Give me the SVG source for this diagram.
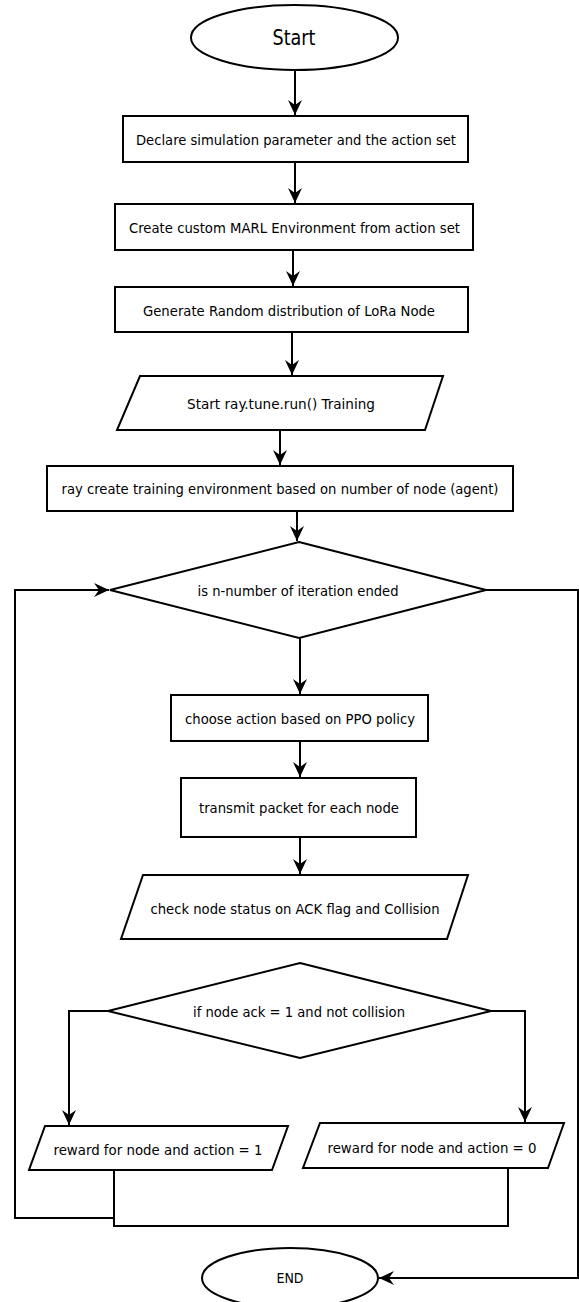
<svg xmlns="http://www.w3.org/2000/svg" width="579" height="1302" viewBox="0 0 579 1302">
<style>
.s{fill:#fff;stroke:#000;stroke-width:2}
.c{fill:none;stroke:#000;stroke-width:2}
text{font-family:"DejaVu Sans Condensed","DejaVu Sans",sans-serif;font-size:14.5px;fill:#000;text-anchor:middle}
</style>
<defs>
<marker id="a" markerUnits="userSpaceOnUse" markerWidth="16" markerHeight="14" refX="15" refY="7" orient="auto">
<path d="M0,0 L15,7 L0,14 L5,7 Z" fill="#000"/>
</marker>
</defs>
<rect width="579" height="1302" fill="#fff"/>
<g id="connectors">
<path class="c" d="M295,70 V115" marker-end="url(#a)"/>
<path class="c" d="M295,162 V203" marker-end="url(#a)"/>
<path class="c" d="M293,250 V286" marker-end="url(#a)"/>
<path class="c" d="M292,332 V375" marker-end="url(#a)"/>
<path class="c" d="M280,430 V465" marker-end="url(#a)"/>
<path class="c" d="M297,511 V541" marker-end="url(#a)"/>
<path class="c" d="M300,638 V694" marker-end="url(#a)"/>
<path class="c" d="M300,741 V777" marker-end="url(#a)"/>
<path class="c" d="M300,837 V874" marker-end="url(#a)"/>
<path class="c" d="M108,1011 H69 V1125" marker-end="url(#a)"/>
<path class="c" d="M491,1011 H525 V1122" marker-end="url(#a)"/>
<path class="c" d="M114,1170 V1226 H508 V1168"/>
<path class="c" d="M113,1218 H15 V590 H109" marker-end="url(#a)"/>
<path class="c" d="M486,590 H578 V1278 H379" marker-end="url(#a)"/>
</g>
<g id="start">
<ellipse class="s" cx="294.5" cy="37.5" rx="103.5" ry="32.5"/>
<text x="294" y="45" style="font-size:21px" textLength="43" lengthAdjust="spacingAndGlyphs">Start</text>
</g>
<g id="declare">
<rect class="s" x="123" y="116" width="345" height="46"/>
<text x="296" y="144.5" textLength="320" lengthAdjust="spacingAndGlyphs">Declare simulation parameter and the action set</text>
</g>
<g id="create-env">
<rect class="s" x="115" y="204" width="358" height="46"/>
<text x="294.5" y="232.5" textLength="331" lengthAdjust="spacingAndGlyphs">Create custom MARL Environment from action set</text>
</g>
<g id="generate">
<rect class="s" x="115" y="287" width="353" height="45"/>
<text x="289" y="315.5" textLength="292" lengthAdjust="spacingAndGlyphs">Generate Random distribution of LoRa Node</text>
</g>
<g id="start-training">
<polygon class="s" points="140,376 443,376 425,430 117,430"/>
<text x="281" y="408.5" textLength="188" lengthAdjust="spacingAndGlyphs">Start ray.tune.run() Training</text>
</g>
<g id="ray-create">
<rect class="s" x="47" y="466" width="466" height="45"/>
<text x="280" y="494" textLength="437" lengthAdjust="spacingAndGlyphs">ray create training environment based on number of node (agent)</text>
</g>
<g id="iteration-check">
<polygon class="s" points="299,542 486,590 299,638 110,590"/>
<text x="298" y="595.5" textLength="201" lengthAdjust="spacingAndGlyphs">is n-number of iteration ended</text>
</g>
<g id="choose-action">
<rect class="s" x="171" y="695" width="257" height="46"/>
<text x="300" y="723.5" textLength="230" lengthAdjust="spacingAndGlyphs">choose action based on PPO policy</text>
</g>
<g id="transmit">
<rect class="s" x="181" y="778" width="235" height="59"/>
<text x="299" y="813" textLength="200" lengthAdjust="spacingAndGlyphs">transmit packet for each node</text>
</g>
<g id="check-status">
<polygon class="s" points="143,875 468,875 447,939 121,939"/>
<text x="295" y="913.5" textLength="289" lengthAdjust="spacingAndGlyphs">check node status on ACK flag and Collision</text>
</g>
<g id="ack-check">
<polygon class="s" points="300,963 491,1011 300,1058 108,1011"/>
<text x="299" y="1016.5" textLength="212" lengthAdjust="spacingAndGlyphs">if node ack = 1 and not collision</text>
</g>
<g id="reward-1">
<polygon class="s" points="45,1126 288,1126 272,1170 29,1170"/>
<text x="158" y="1154.5" textLength="209" lengthAdjust="spacingAndGlyphs">reward for node and action = 1</text>
</g>
<g id="reward-0">
<polygon class="s" points="320,1123 564,1123 548,1168 303,1168"/>
<text x="432" y="1152.5" textLength="209" lengthAdjust="spacingAndGlyphs">reward for node and action = 0</text>
</g>
<g id="end">
<ellipse class="s" cx="290" cy="1278" rx="88" ry="30"/>
<text x="290" y="1283" textLength="27" lengthAdjust="spacingAndGlyphs">END</text>
</g>
</svg>
